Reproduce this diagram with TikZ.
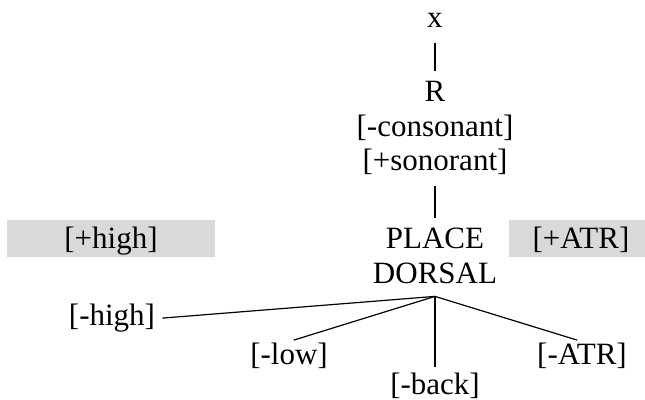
\documentclass[tikz,border=0pt]{standalone}
\usepackage{fontspec}
\setmainfont{Liberation Serif}
\usepackage{tikz}
\usetikzlibrary{positioning}

\begin{document}
\begin{tikzpicture}[
  feat/.style={font=\fontsize{15.5pt}{17pt}\selectfont, text height=10.5pt, text depth=3pt, inner sep=1pt},
  shade/.style={feat, fill=black!15, text height=13.5pt, text depth=3pt, minimum width=104pt},
  bar/.style={line width=0.6pt, shorten <=3.5pt, shorten >=3.75pt},
  branch/.style={line width=0.6pt, shorten >=2.5pt}
]
\useasboundingbox (0,0) rectangle (322.5pt,-200pt);

\node[feat] (x) at (217.5pt,-10.25pt) {x};
\node[feat, node distance=37pt, below of=x] (R) {R};
\node[feat, node distance=17.25pt, below of=R] (cons) {[-consonant]};
\node[feat, node distance=17.25pt, below of=cons] (son) {[+sonorant]};
\node[feat, node distance=39pt, below of=son] (place) {PLACE};
\node[feat, node distance=17.5pt, below of=place] (dorsal) {DORSAL};

%shaded features
\node[shade, node distance=162pt, left of=place, yshift=1.5pt] (phigh) {[+high]};
\node[shade, minimum width=72pt, node distance=73pt, right of=place, yshift=1.5pt] (patr) {[+ATR]};

%dependents of DORSAL
\node[feat, node distance=21pt, below of=dorsal, xshift=-161.5pt] (mhigh) {[-high]};
\node[feat, node distance=40.5pt, below of=dorsal, xshift=-73pt] (mlow) {[-low]};
\node[feat, node distance=55.5pt, below of=dorsal] (mback) {[-back]};
\node[feat, node distance=40.5pt, below of=dorsal, xshift=73.5pt] (matr) {[-ATR]};
\coordinate (root) at ([yshift=-2pt]dorsal.south);

\draw[bar] (x)--(R);
\draw[bar] (son)--(place);

\draw[branch] (root)--(mhigh.east);
\draw[branch] (root)--(mlow.north);
\draw[branch] (root)--(mback.north);
\draw[branch] (root)--(matr.north);
\end{tikzpicture}
\end{document}
